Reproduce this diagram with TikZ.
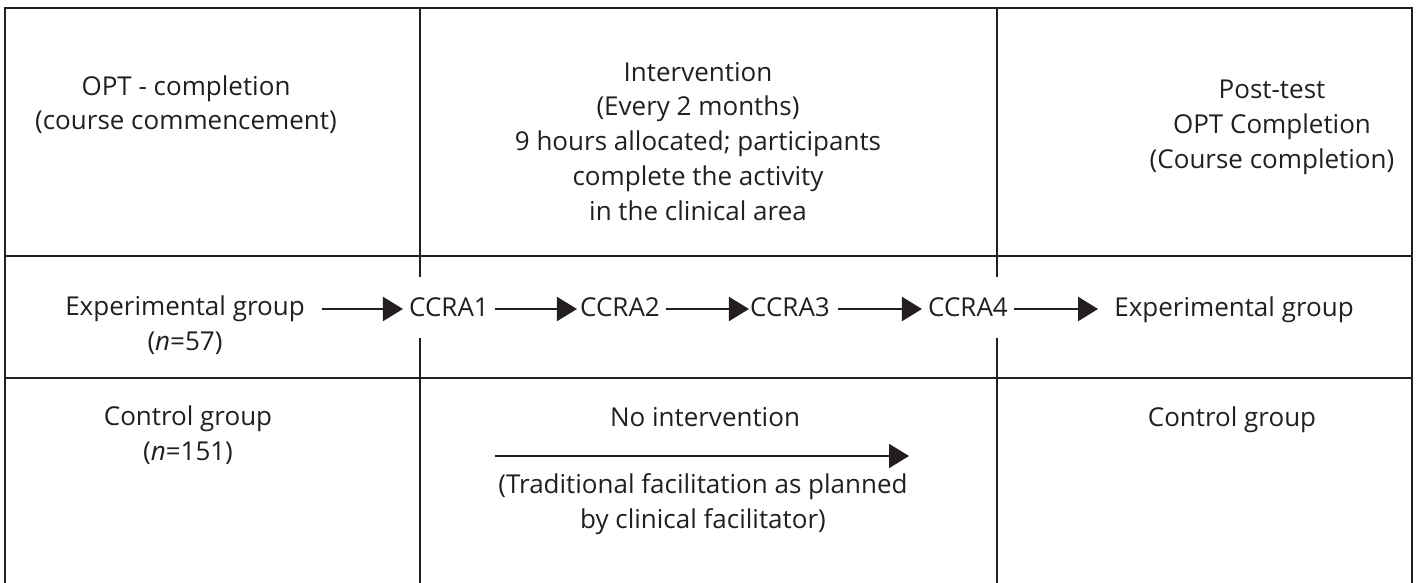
\documentclass[tikz,border=0pt]{standalone}
\usepackage{fontspec}
\setmainfont{Open Sans}
\usetikzlibrary{arrows.meta,calc}
\definecolor{ink}{HTML}{231F20}
\begin{document}
\begin{tikzpicture}[x=1pt,y=-1pt,
  grid/.style={draw=ink,line width=2pt},
  lbl/.style={text=ink,font=\fontsize{26}{34.7}\selectfont,align=center,inner sep=0pt,anchor=base},
  flow/.style={draw=ink,line width=2pt,-{Triangle[length=20pt,width=24pt]}}]
\useasboundingbox (0,0) rectangle (1417,583);

% table frame (open at the bottom)
\draw[grid,line join=miter] (5,583) -- (5,8) -- (1412,8) -- (1412,583);
\draw[grid] (5,256) -- (1412,256);
\draw[grid] (5,378) -- (1412,378);
\draw[grid] (420,8) -- (420,277) (420,338) -- (420,583);
\draw[grid] (997,8) -- (997,277) (997,338) -- (997,583);

% header row (node base = baseline of the last line)
\node[lbl] (pre)  at (186,130) {OPT - completion\\(course commencement)};
\node[lbl] (int)  at (698,220) {Intervention\\(Every 2 months)\\9 hours allocated; participants\\complete the activity\\in the clinical area};
\node[lbl] (post) at (1272,168) {Post-test\\OPT Completion\\(Course completion)};

% experimental row
\coordinate (row) at (0,309);
\node[lbl] (expA) at (185,350) {Experimental group\\(\textit{n}=57)};
\node[lbl] (c1) at (449,316) {CCRA1};
\node[lbl] (c2) at (620,316) {CCRA2};
\node[lbl] (c3) at (790,316) {CCRA3};
\node[lbl] (c4) at (968,316) {CCRA4};
\node[lbl] (expB) at (1234,316) {Experimental group};

\draw[flow] ($(expA.east |- row)+(17,0)$) -- ($(c1.west |- row)+(-6,0)$);
\draw[flow] ($(c1.east |- row)+(6,0)$) -- ($(c2.west |- row)+(-3,0)$);
\draw[flow] ($(c2.east |- row)+(6,0)$) -- ($(c3.west |- row)+(-1,0)$);
\draw[flow] ($(c3.east |- row)+(8,0)$) -- ($(c4.west |- row)+(-6,0)$);
\draw[flow] ($(c4.east |- row)+(6,0)$) -- ($(expB.west |- row)+(-16,0)$);

% control row
\node[lbl] (ctrlA) at (188,460) {Control group\\(\textit{n}=151)};
\node[lbl] (noint) at (705,426) {No intervention};
\coordinate (ni-start) at (495,456);
\coordinate (ni-end) at (909,456);
\draw[flow] (ni-start) -- (ni-end);
\node[lbl] (trad) at (703,528) {(Traditional facilitation as planned\\by clinical facilitator)};
\node[lbl] (ctrlB) at (1232,426) {Control group};
\end{tikzpicture}
\end{document}
